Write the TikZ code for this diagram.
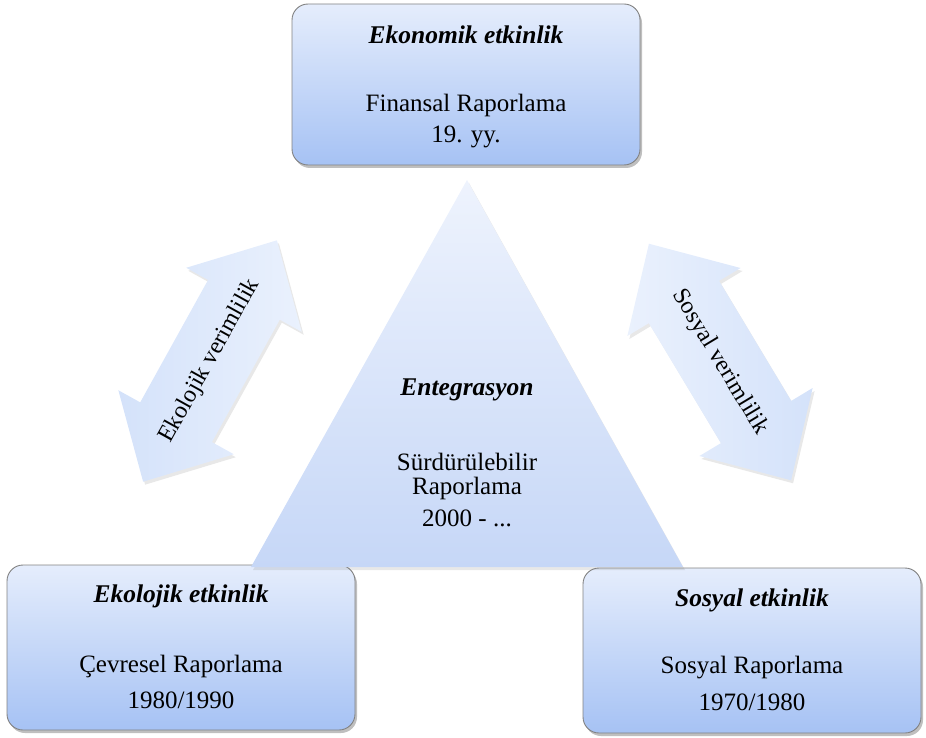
\documentclass[tikz,border=0pt]{standalone}
\usepackage{fontspec}
\setmainfont{Liberation Serif}
\usetikzlibrary{shadows}
\definecolor{boxtop}{RGB}{229,237,252}
\definecolor{boxbot}{RGB}{166,194,244}
\definecolor{boxline}{RGB}{130,130,130}
\definecolor{tritop}{RGB}{238,243,253}
\definecolor{tribot}{RGB}{198,215,247}
\definecolor{arrlight}{RGB}{234,241,253}
\definecolor{arrdark}{RGB}{212,226,250}
\tikzset{
  box/.style={draw=boxline, line width=0.9pt, rounded corners=16pt,
    top color=boxtop, bottom color=boxbot,
    drop shadow={opacity=0.5, shadow xshift=2pt, shadow yshift=-3pt}},
  softshadow/.style={drop shadow={opacity=0.18, shadow xshift=2pt, shadow yshift=-3pt}},
  ttl/.style={font=\fontsize{25.5}{29}\selectfont\bfseries\itshape, inner sep=0pt},
  txt/.style={font=\fontsize{25}{29}\selectfont, inner sep=0pt},
  atxt/.style={font=\fontsize{24}{28}\selectfont, inner sep=0pt},
}
\newcommand{\dblarrowpath}{(138,0) -- (70,66) -- (70,41) -- (-70,41) -- (-70,66) -- (-138,0) -- (-70,-66) -- (-70,-41) -- (70,-41) -- (70,-66) -- cycle}
\begin{document}
\begin{tikzpicture}[x=1pt,y=-1pt]
\useasboundingbox (0,0) rectangle (926,738);

% boxes
\path[box] (292,4) rectangle (640,165);
\node[ttl] (ecoT) at (466,35) {Ekonomik etkinlik};
\node[txt] (ecoA) at (466,105) {Finansal Raporlama};
\node[txt] (ecoB) at (466,137) {19. yy.};

\path[box] (7,565) rectangle (355,730);
\node[ttl] (ekoT) at (181,596) {Ekolojik etkinlik};
\node[txt] (ekoA) at (181,666) {Çevresel Raporlama};
\node[txt] (ekoB) at (181,700) {1980/1990};

\path[box] (583,568) rectangle (921,733);
\node[ttl] (sosT) at (752,600) {Sosyal etkinlik};
\node[txt] (sosA) at (752,668) {Sosyal Raporlama};
\node[txt] (sosB) at (752,702) {1970/1980};

% triangle
\path[top color=tritop, bottom color=tribot, softshadow] (467,180) -- (683,567) -- (251,567) -- cycle;
\node[ttl] (entT) at (467,390) {Entegrasyon};
\node[txt] (entA) at (467,462) {Sürdürülebilir};
\node[txt] (entB) at (467,488) {Raporlama};
\node[txt] (entC) at (467,518) {2000 - ...};

% left double arrow
\begin{scope}[shift={(210,361)}, rotate=61]
  \path[left color=arrdark, right color=arrlight, softshadow] \dblarrowpath;
\end{scope}
\node[atxt, rotate=61] (ekov) at (210,361) {Ekolojik verimlilik};

% right double arrow
\begin{scope}[shift={(720,362)}, rotate=-59]
  \path[left color=arrlight, right color=arrdark, softshadow] \dblarrowpath;
\end{scope}
\node[atxt, rotate=-59] (sosv) at (720,362) {Sosyal verimlilik};
\end{tikzpicture}
\end{document}
